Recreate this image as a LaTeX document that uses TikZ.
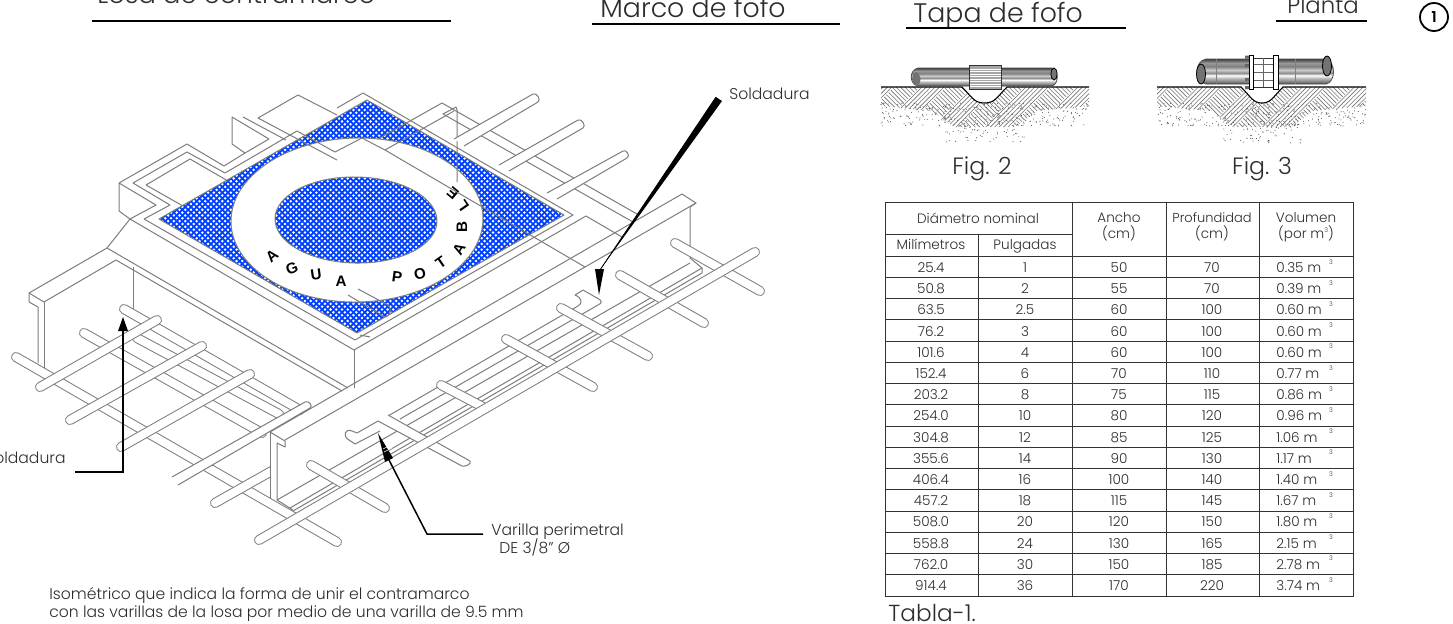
\documentclass[tikz,border=0pt]{standalone}
\usepackage{fontspec}
\setmainfont{Poppins}[UprightFont=* Light]
\newfontfamily\lett{Liberation Sans}
\usetikzlibrary{calc,patterns}
\definecolor{bluefill}{RGB}{0,64,255}
\definecolor{lgray}{RGB}{125,125,125}
\definecolor{ink}{RGB}{45,45,45}
\pgfdeclareverticalshading{pipeS}{100bp}{color(0bp)=(black!70);color(25bp)=(black!70);color(31bp)=(black!45);color(37bp)=(black!25);color(42bp)=(white);color(47bp)=(black!45);color(53bp)=(black!20);color(60bp)=(black!50);color(67bp)=(black!40);color(75bp)=(black!75);color(100bp)=(black!75)}
\pgfdeclarepatternformonly{bluedots}{\pgfqpoint{-.8pt}{-.8pt}}{\pgfqpoint{2.05pt}{2.05pt}}{\pgfqpoint{2.85pt}{2.85pt}}{
 \pgfpathcircle{\pgfqpoint{0pt}{0pt}}{.7pt}
 \pgfusepath{fill}
 \pgfpathcircle{\pgfqpoint{1.425pt}{1.425pt}}{.7pt}
 \pgfusepath{fill}}
\tikzset{
 thin line/.style={draw=lgray,line width=.5pt,line join=round},
 txt/.style={text=ink,inner sep=0pt,anchor=base west},
 cell/.style={text=ink,inner sep=0pt,anchor=base,font=\fontsize{6.8}{7}\selectfont},
 title/.style={txt,font=\fontsize{13.4}{15}\selectfont},
 figlabel/.style={txt,font=\fontsize{11.8}{14}\selectfont},
 label/.style={txt,font=\fontsize{7.8}{9}\selectfont},
 lead/.style={draw=black,line width=.75pt},
 tabline/.style={draw=black!80,line width=.5pt},
 letter/.style={inner sep=0pt,text=black,font=\lett\bfseries\fontsize{7.6}{9}\selectfont},
}
\newcommand\rod[2]{\draw[lgray,line width=5pt,line cap=round] (#1)--(#2);\draw[white,line width=4pt,line cap=round] (#1)--(#2);}
% open rod: start top, end top, end bottom, start bottom
\newcommand\openrod[4]{\filldraw[thin line,fill=white] (#1)--(#2) .. controls +(3.5,-2) and +(3.5,-2) .. (#3)--(#4);}
\newcommand\soilfig[6]{% x0 x1 bL bR bBottom seed
 \begin{scope}
 \clip (#1,87)--(#2,87)--(#2,106)--(#4+30,111)--(#4+8,127)--(#3-8,127)--(#3-30,111)--(#1,106)--cycle;
 \foreach \kk in {-9,...,9}{\foreach \lv in {-1,...,4}{
   \pgfmathtruncatemacro\parity{mod(abs(\kk+\lv),2)}
   \ifnum\parity=0
   \pgfmathtruncatemacro\s{2*mod(abs((\kk+\lv)/2),2)-1}\pgfmathsetmacro\cx{(#1+#2)/2+\kk*13}\pgfmathsetmacro\cy{87+\lv*13}
   \draw[black!55,line width=.3pt] \foreach \uu in {-5.5,-3.3,-1.1,1.1,3.3,5.5}{(\cx-6.5+\uu,\cy-6.5*\s-\s*\uu)--(\cx+6.5+\uu,\cy+6.5*\s-\s*\uu)};
   \fi}}
 \end{scope}
 \pgfmathsetseed{#6}
 \foreach \n in {1,...,300}{\pgfmathsetmacro\px{#1+rnd*(#2-#1)}\pgfmathsetmacro\py{103+rnd*23}\fill[black!65] (\px,\py) circle (.55);}
 \foreach \n in {1,...,70}{\pgfmathsetmacro\px{#3-18+rnd*(#4-#3+36)}\pgfmathsetmacro\py{120+rnd*23}\fill[black!65] (\px,\py) circle (.55);}
 \fill[white] (#3,87) .. controls (#3+10,97) and (#3+12,#5) .. ({(#3+#4)/2},#5) .. controls (#4-12,#5) and (#4-10,97) .. (#4,87)--cycle;
 \draw[black,line width=.55pt] (#1,87)--(#3,87) .. controls (#3+10,97) and (#3+12,#5) .. ({(#3+#4)/2},#5) .. controls (#4-12,#5) and (#4-10,97) .. (#4,87)--(#2,87);
}
\begin{document}
\begin{tikzpicture}[x=.5pt,y=-.5pt]
\useasboundingbox[fill=white] (0,0) rectangle (1453,623);
% ---- titles
\node[title,font=\fontsize{13}{15}\selectfont] (t1) at (97,3) {Losa de contramarco};
\node[title] (t2) at (600,17) {Marco de fofo};
\node[title] (t3) at (913,22) {Tapa de fofo};
\node[title,font=\fontsize{11.4}{14}\selectfont] (t4) at (1287,13) {Planta};
\draw[black,line width=.8pt] (92,21)--(451,21) (592,24)--(840,24) (906,28)--(1126,28) (1276,21)--(1367,21);
\node[draw=black,circle,line width=.9pt,minimum size=14pt,inner sep=0pt,font=\fontsize{7.5}{8}\selectfont\bfseries] (one) at (1434,17) {1};
% ---- blue plate
\fill[bluefill] (159,219)--(367,100)--(564,215)--(357,333)--cycle;
\fill[pattern=bluedots,pattern color=white] (159,219)--(367,100)--(564,215)--(357,333)--cycle;
\draw[thin line] (159,219)--(367,100)--(564,215)--(357,333)--cycle;
\filldraw[thin line,fill=white] (357,220) [rotate around={1:(357,220)}] ellipse (126 and 82);
\fill[bluefill] (356,220) [rotate around={-1:(356,220)}] ellipse (81 and 43);
\fill[pattern=bluedots,pattern color=white] (356,220) [rotate around={-1:(356,220)}] ellipse (81 and 43);
\draw[thin line] (356,220) [rotate around={-1:(356,220)}] ellipse (81 and 43);
% letters
\node[letter,rotate=40] (la1) at (272,256) {A};
\node[letter,rotate=22] (la2) at (292,268) {G};
\node[letter,rotate=8] (la3) at (316,275) {U};
\node[letter,rotate=0] (la4) at (341,281) {A};
\node[letter,rotate=-8] (la5) at (397,277) {P};
\node[letter,rotate=15] (la6) at (420,274) {O};
\node[letter,rotate=35] (la7) at (441,263) {T};
\node[letter,rotate=60] (la8) at (459,249) {A};
\node[letter,rotate=90] (la9) at (462,227) {B};
\node[letter,rotate=125] (la10) at (463,206) {L};
\node[letter,rotate=140] (la11) at (453,193) {E};
% ---- frame lines
\draw[thin line] (119,183)--(187,144)--(224,166)--(245,153);
\draw[thin line] (232,117)--(232,144)--(245,153)--(269,139)--cycle;
\draw[thin line] (243,117)--(286,140);
\draw[thin line] (133,183)--(187,152)--(225,173)--(297,131)--(335,152)--(362,138)--(385,150)--(585,267);
\draw[thin line] (146,185)--(190,159)--(228,181);
\draw[thin line] (133,183)--(170,205)--(144,219);
\draw[thin line] (146,185)--(183,206);
\draw[thin line] (119,183)--(156,205)--(130,219);
\draw[thin line] (119,183)--(119,211)--(130,219)--(354,350);
\draw[thin line] (144,219)--(355,340)--(573,215)--(363,93)--(337,108);
\draw[thin line] (354,350)--(586,216)--(622,237);
\draw[thin line] (354,350)--(354,388);
\draw[thin line] (258,118)--(298,95)--(337,115);
\draw[thin line] (258,118)--(337,160);
\draw[thin line] (385,150)--(454,111);
\draw[thin line] (378,139)--(442,103)--(637,214);
\draw[thin line] (456,107)--(443,114)--(633,222);
\draw[thin line] (456,107)--(457,110)--(457,182);
\draw[thin line] (348,295)--(385,317);
\draw[thin line] (358,289)--(388,305) .. controls (392,309) and (391,314) .. (386,317);
\draw[thin line] (360,335)--(370,337);
% upper rods
\openrod{454,139}{533,94}{538,102}{464,146}
\openrod{499,165}{578,120}{583,128}{509,171}
\openrod{547,193}{623,151}{627,158}{557,199}
% ---- beam left
\draw[thin line] (130,219)--(107,248)--(29,293)--(29,302)--(38,307)--(38,363);
\draw[thin line] (29,293)--(44,302)--(116,260)--(342,391);
\draw[thin line] (44,302)--(44,368);
\draw[thin line] (107,248)--(348,388);
\draw[thin line] (133,267)--(133,310);
% ---- mesh: long lower rods
\rod{16,357}{337,542}
\rod{84,333}{262,433}
\rod{124,309}{300,410}
\rod{137,338}{279,414}
\begin{scope}
 \clip (190,440) rectangle (270,530);
 \rod{215,503}{300,455}
\end{scope}
\openrod{172,477}{305,402}{310,408}{178,485}
\rod{40,387}{157,320}
\rod{70,420}{202,346}
\rod{121,447}{250,374}
% ---- beam front
\draw[thin line] (682,194)--(270,432)--(285,441)--(285,447)--(277,443)--(277,500)--(293,510);
\draw[thin line] (270,432)--(270,499);
\draw[thin line] (285,440)--(696,203)--(682,194);
\draw[thin line] (696,203)--(690,207)--(690,258)--(702,268)--(702,273);
% inner lines
\draw[thin line] (277,500)--(690,263);
\draw[thin line] (290,508)--(702,268);
\draw[thin line] (293,511)--(702,273);
\draw[thin line] (388,416)--(578,306) .. controls (583,303) and (582,298) .. (575,295)--(583,290)--(597,298) .. controls (603,301) and (602,303) .. (598,305)--(400,419);
% hook at left
\filldraw[thin line,fill=white] (378,421)--(357,433)--(352,431) .. controls (345,428) and (342,436) .. (349,440)--(355,444)--(380,431);
% cross rods
\rod{311,465}{385,508}
\rod{441,385}{483,407}
\rod{506,339}{593,387}
\rod{561,308}{648,356}
\rod{620,275}{704,323}
\rod{675,243}{760,291}
\filldraw[thin line,fill=white] (388,415)--(470,461) .. controls +(2,3) and +(3,1) .. (462,466)--(378,421);
\rod{259,540}{755,252}
% ---- leaders
\node[label] (sold1) at (-15,463) {Soldadura};
\coordinate (a1) at (75,472); \coordinate (a2) at (123,472); \coordinate (a3) at (123,325);
\draw[lead] (a1)--(a2)--(a3);
\fill[black] (123,317)--(118,331)--(128,331)--cycle;
\node[label] (sold2) at (729,99) {Soldadura};
\coordinate (w1) at (716,97); \coordinate (w2) at (722,101); \coordinate (w3) at (600,270);
\fill[black] (w1)--(w2)--(w3)--cycle;
\draw[black,line width=.4pt] (w3)--(w1);
\fill[black] (595,269)--(604,269)--(599,295)--cycle;
\node[label] (var1) at (491,535) {Varilla perimetral};
\node[label] (var2) at (499,553) {DE 3/8" Ø};
\coordinate (v1) at (483,534); \coordinate (v2) at (427,534); \coordinate (v3) at (389,460);
\draw[lead] (v1)--(v2)--(v3);
\fill[black] (378,433)--(393,458)--(385,462)--cycle;
\draw[white,line width=.3pt] (383,449)--(391,445) (384,452)--(392,448);
\node[label] (cap1) at (49,599) {Isométrico que indica la forma de unir el contramarco};
\node[label] (cap2) at (49,617) {con las varillas de la losa por medio de una varilla de 9.5 mm};
% ---- Fig 2
\soilfig{881}{1089}{962}{1007}{103}{11}
\shade[shading=pipeS,draw=black!70,line width=.4pt] (918,68)--(1052,68) .. controls (1059,70) and (1059,84) .. (1052,86)--(918,86) .. controls (909,84) and (909,70) .. (918,68)--cycle;
\fill[black!55] (916,72) .. controls (922,76) and (922,82) .. (917,86) .. controls (911,83) and (910,76) .. (916,72)--cycle;
\fill[black!55,draw=black] (1054,74) ellipse (3 and 6);
\fill[black!35] (969,65) rectangle (1001,89);
\draw[white,line width=.35pt] \foreach \y in {69,71.5,...,87}{(969,\y)--(1001,\y)};
\draw[black!80,line width=.5pt] (969,65) rectangle (1001,89);
\node[figlabel,anchor=base] (f2) at (982,174) {Fig. 2};
% ---- Fig 3
\soilfig{1157}{1366}{1241}{1283}{103}{29}
\shade[shading=pipeS,draw=black!70,line width=.4pt] (1206,59)--(1326,59) .. controls (1336,62) and (1336,82) .. (1326,84)--(1206,84) .. controls (1194,82) and (1194,61) .. (1206,59)--cycle;
\draw[black!50,line width=.3pt] (1216,59)--(1216,84) (1295,59)--(1295,84);
\fill[black!55,draw=black,line width=.4pt] (1201,74) ellipse (4.5 and 10);
\fill[black!55,draw=black,line width=.4pt] (1327,66) ellipse (4.5 and 10);
\filldraw[fill=white,draw=black!80,line width=.5pt] (1253,58) rectangle (1273,87);
\draw[black!60,line width=.35pt] (1263,58)--(1263,87) (1253,64)--(1273,64) (1253,72)--(1273,72) (1253,80)--(1273,80);
\filldraw[fill=white,draw=black,line width=.5pt] (1249,55) rectangle (1253,89);
\filldraw[fill=white,draw=black,line width=.5pt] (1273,55) rectangle (1278,89);
\fill[black!60] \foreach \y in {55.5,64,78,86}{(1245,\y) rectangle (1249,\y+3)};
\node[figlabel,anchor=base] (f3) at (1262,174) {Fig. 3};
% ---- table
\draw[tabline] (885,202) rectangle (1353,596);
\draw[tabline] (978,234)--(978,596) (1072.5,202)--(1072.5,596) (1166,202)--(1166,596) (1259,202)--(1259,596);
\draw[tabline] (885,234)--(1072.5,234);
\draw[tabline] \foreach \k in {0,...,15}{(885,256+\k*21.25)--(1353,256+\k*21.25)};
\node[cell] (h1) at (978,223) {Diámetro nominal};
\node[cell] (h2) at (931,249) {Milímetros};
\node[cell] (h3) at (1025,249) {Pulgadas};
\node[cell] (h4) at (1119,222) {Ancho};
\node[cell] (h5) at (1119,238) {(cm)};
\node[cell,font=\fontsize{6.5}{7}\selectfont] (h6) at (1212,222) {Profundidad};
\node[cell] (h7) at (1212,238) {(cm)};
\node[cell] (h8) at (1306,222) {Volumen};
\node[cell] (h9) at (1306,238) {(por m\raisebox{2.6pt}{\fontsize{3.2}{3}\selectfont 3})};
\foreach \a/\b/\c/\d/\e [count=\n from 0] in {
 25.4/1/50/70/0.35,50.8/2/55/70/0.39,63.5/2.5/60/100/0.60,76.2/3/60/100/0.60,
 101.6/4/60/100/0.60,152.4/6/70/110/0.77,203.2/8/75/115/0.86,254.0/10/80/120/0.96,
 304.8/12/85/125/1.06,355.6/14/90/130/1.17,406.4/16/100/140/1.40,457.2/18/115/145/1.67,
 508.0/20/120/150/1.80,558.8/24/130/165/2.15,762.0/30/150/185/2.78,914.4/36/170/220/3.74}{
 \node[cell] (ra\n) at (931,{272.5+\n*21.2}) {\a};
 \node[cell] (rb\n) at (1025,{272.5+\n*21.2}) {\b};
 \node[cell] (rc\n) at (1119,{272.5+\n*21.2}) {\c};
 \node[cell] (rd\n) at (1212,{272.5+\n*21.2}) {\d};
 \node[cell,anchor=base west] (re\n) at (1276,{272.5+\n*21.2}) {\e\ m};
 \node[cell,font=\fontsize{3.2}{3}\selectfont] (rf\n) at (1331,{264+\n*21.2}) {3};
}
\node[figlabel,font=\fontsize{11.6}{14}\selectfont] (tab) at (888,621) {Tabla-1.};
\end{tikzpicture}
\end{document}
